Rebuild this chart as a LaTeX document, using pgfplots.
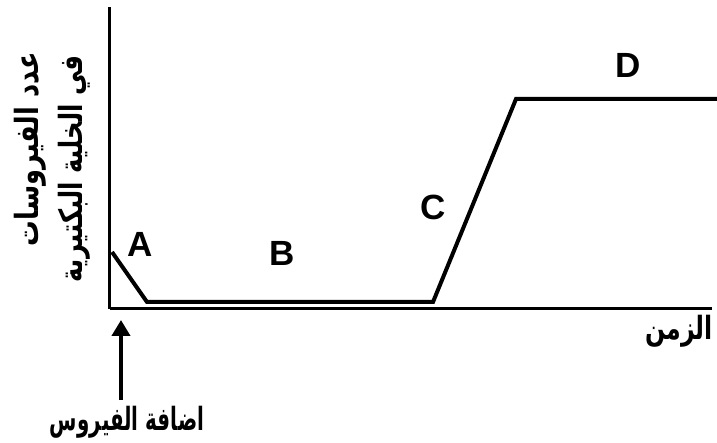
\documentclass[border=0pt]{standalone}
\usepackage{fontspec}
\setmainfont{Liberation Sans}
\newfontfamily\arabicfont[Script=Arabic]{DejaVu Sans}
\TeXXeTstate=1
\usepackage{pgfplots}
\pgfplotsset{compat=1.18}
\usetikzlibrary{arrows.meta}
\begin{document}
\begin{tikzpicture}
\begin{axis}[
  scale only axis,
  x=0.5pt, y=0.5pt,
  xmin=110, xmax=712, ymin=134, ymax=436,
  axis x line=bottom, axis y line=left,
  axis line style={line width=1.5pt, -},
  xtick=\empty, ytick=\empty,
  clip=false,
]
\path[use as bounding box] (axis cs:0,0) rectangle (axis cs:717,443);
\addplot[black, line width=2pt, line join=miter] coordinates {
  (112,191) (147,141) (433,141) (516,344) (717,344)
};
\node[font=\fontsize{17.5}{20}\selectfont\bfseries] at (axis cs:140,199) {A};
\node[font=\fontsize{17.5}{20}\selectfont\bfseries] at (axis cs:282,190) {B};
\node[font=\fontsize{17.5}{20}\selectfont\bfseries] at (axis cs:433,236) {C};
\node[font=\fontsize{17.5}{20}\selectfont\bfseries] at (axis cs:628,378) {D};
\node[font=\fontsize{16}{18}\selectfont\arabicfont\bfseries, xscale=0.74, inner sep=0pt] at (axis cs:679,112) {\beginR الزمن\endR};
\node[font=\fontsize{16}{18}\selectfont\arabicfont\bfseries, rotate=90, xscale=0.8, anchor=east, inner sep=0pt] at (axis cs:30,391) {\beginR عدد الفيروسات\endR};
\node[font=\fontsize{16}{18}\selectfont\arabicfont\bfseries, rotate=90, xscale=0.76, anchor=east, inner sep=0pt] at (axis cs:74,388) {\beginR في الخلية البكتيرية\endR};
\draw[line width=2pt, -{Triangle[length=8pt,width=9pt]}] (axis cs:121,43) -- (axis cs:121,123);
\node[font=\fontsize{16}{18}\selectfont\arabicfont\bfseries, xscale=0.62, inner sep=0pt] at (axis cs:127,21) {\beginR اضافة الفيروس\endR};
\end{axis}
\end{tikzpicture}
\end{document}
